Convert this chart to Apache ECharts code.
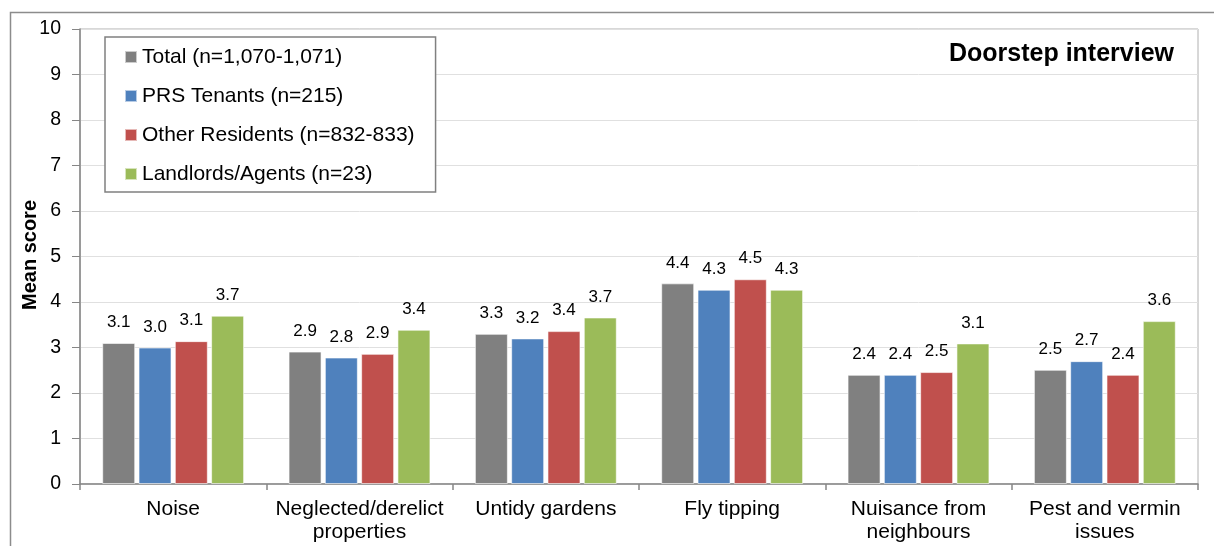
<!DOCTYPE html>
<html>
<head>
<meta charset="utf-8">
<script src="https://cdn.jsdelivr.net/npm/echarts@6/dist/echarts.min.js"></script>
<style>
html,body{margin:0;padding:0;background:#fff;}
#chart{width:1214px;height:546px;}
</style>
</head>
<body>
<div id="chart"></div>
<script>
const categories = ['Noise', 'Neglected/derelict\nproperties', 'Untidy gardens', 'Fly tipping', 'Nuisance from\nneighbours', 'Pest and vermin\nissues'];
const seriesNames = ['Total (n=1,070-1,071)', 'PRS Tenants (n=215)', 'Other Residents (n=832-833)', 'Landlords/Agents (n=23)'];
const totalValues = [3.10, 2.91, 3.30, 4.41, 2.40, 2.51];
const prsValues = [3.00, 2.78, 3.20, 4.27, 2.40, 2.70];
const otherValues = [3.14, 2.86, 3.36, 4.50, 2.46, 2.40];
const landlordValues = [3.70, 3.39, 3.66, 4.27, 3.09, 3.58];
const yTicks = [0, 1, 2, 3, 4, 5, 6, 7, 8, 9, 10];
const yAxisTitle = 'Mean score';
const chartTitle = 'Doorstep interview';
const colors = ['#808080', '#4f81bd', '#c0504d', '#9bbb59'];

const FONT = '"Liberation Sans", Arial, sans-serif';
const dataSets = [totalValues, prsValues, otherValues, landlordValues];

const chart = echarts.init(document.getElementById('chart'), null, {renderer: 'canvas'});
chart.setOption({
  animation: false,
  textStyle: {fontFamily: FONT},
  graphic: [
    {type: 'rect', left: 8, top: 10, shape: {x: 0, y: 0, width: 1400, height: 700},
     style: {fill: 'none', stroke: '#8c8c8c', lineWidth: 1.5}, z: -10, silent: true},
    {type: 'text', right: 40, top: 42,
     style: {text: chartTitle, font: 'bold 25px ' + FONT, fill: '#000'}},
    {type: 'text', x: 30, y: 255, rotation: Math.PI / 2,
     style: {text: yAxisTitle, font: 'bold 20px ' + FONT, fill: '#000', align: 'center', verticalAlign: 'middle'}}
  ],
  grid: {left: 80, top: 29, right: 16, bottom: 62, show: true, borderColor: '#b0b0b0', borderWidth: 1, backgroundColor: 'transparent'},
  legend: {
    orient: 'vertical', left: 105, top: 37,
    padding: [8, 21, 6, 19],
    itemGap: 15,
    itemWidth: 12, itemHeight: 12,
    icon: 'rect',
    borderColor: '#808080', borderWidth: 1.5, backgroundColor: '#fff',
    textStyle: {fontSize: 21, color: '#000', fontFamily: FONT, lineHeight: 24},
    data: seriesNames
  },
  xAxis: {
    type: 'category',
    data: categories,
    axisLine: {lineStyle: {color: '#868686', width: 1.5}},
    axisTick: {show: true, length: 6, alignWithLabel: false, lineStyle: {color: '#868686', width: 1.5}},
    axisLabel: {fontSize: 21, color: '#000', lineHeight: 23, margin: 14, fontFamily: FONT, interval: 0}
  },
  yAxis: {
    type: 'value', min: yTicks[0], max: yTicks[yTicks.length - 1], interval: 1,
    axisLine: {show: true, lineStyle: {color: '#868686', width: 1.5}},
    axisTick: {show: true, length: 8, lineStyle: {color: '#868686'}},
    axisLabel: {fontSize: 19.5, color: '#000', margin: 19, fontFamily: FONT},
    splitLine: {lineStyle: {color: '#e0e0e0', width: 1}}
  },
  series: seriesNames.map((name, i) => ({
    name: name,
    type: 'bar',
    data: dataSets[i],
    barWidth: 33,
    barGap: '10%',
    itemStyle: {color: colors[i], borderColor: 'rgba(255,255,255,0.6)', borderWidth: 1},
    label: {
      show: true, position: 'top', distance: 12,
      fontSize: 17, color: '#000', fontFamily: FONT,
      formatter: p => p.value.toFixed(1)
    }
  }))
});
</script>
</body>
</html>
